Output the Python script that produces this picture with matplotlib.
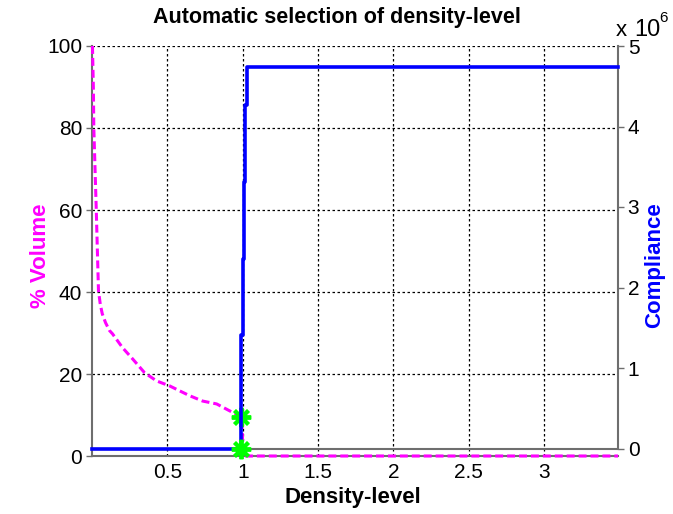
import numpy as np
import matplotlib
matplotlib.use("Agg")
import matplotlib.pyplot as plt

plt.rcParams['font.family'] = ['Liberation Sans', 'DejaVu Sans']

# % Volume vs density-level (left axis)
vol_density = [0.003, 0.009, 0.012, 0.028, 0.043, 0.055, 0.068, 0.09, 0.116, 0.136,
               0.203, 0.269, 0.349, 0.429, 0.515, 0.581, 0.648, 0.734, 0.827, 0.914,
               0.993, 1.0, 1.01, 3.49]
volume = [100, 90, 80, 60.4, 40.3, 37, 34.7, 32.5, 30.6, 29.8,
          26.4, 23.7, 20.3, 18.3, 17.1, 15.9, 14.7, 13.4, 12.7, 11.0,
          9.5, 3.0, 0.0, 0.0]

# Compliance vs density-level (right axis), step curve
comp_density = [0.003, 0.991, 1.000, 1.009, 1.018, 1.027, 3.49]
compliance = [0.0, 1.41e6, 2.35e6, 3.31e6, 4.27e6, 4.74e6, 4.74e6]

# selected density level
sel_density = 0.99
sel_volume = 9.5
sel_compliance = 0.0

x_ticks = [0.5, 1, 1.5, 2, 2.5, 3]
vol_ticks = [0, 20, 40, 60, 80, 100]
comp_ticks = [0, 1e6, 2e6, 3e6, 4e6, 5e6]
comp_labels = ['0', '1', '2', '3', '4', '5']

W, H = 673, 514
fig = plt.figure(figsize=(W / 100, H / 100), dpi=100)
fig.patch.set_facecolor('white')

spine_col = '#6e6e6e'
magenta = (1, 0, 1)
blue = (0, 0, 1)
green = (0, 1, 0)

x0, x1 = 92, 618
ax = fig.add_axes([x0 / W, (H - 456) / H, (x1 - x0) / W, (456 - 46) / H])
ax2 = fig.add_axes([x0 / W, (H - 448.5) / H, (x1 - x0) / W, (448.5 - 46) / H])
ax2.patch.set_alpha(0)

# left axes
ax.plot(vol_density, volume, color=magenta, lw=2.2, dashes=(2.6, 1.3), zorder=3, clip_on=False)
ax.plot([sel_density], [sel_volume], color=green, marker=(8, 2, 0), ms=14, mew=2.8, zorder=5)
ax.set_xlim(0, 3.49)
ax.set_ylim(0, 100)
ax.set_xticks(x_ticks)
ax.set_xticklabels(['0.5', '1', '1.5', '2', '2.5', '3'])
ax.set_yticks(vol_ticks)
ax.grid(True, color='black', linestyle=(0, (2, 2)), lw=0.9)
ax.set_axisbelow(True)
for s in ['top', 'right']:
    ax.spines[s].set_visible(False)
for s in ['left', 'bottom']:
    ax.spines[s].set_color(spine_col)
    ax.spines[s].set_linewidth(1.5)
ax.tick_params(axis='y', direction='out', length=4, width=1, colors=spine_col,
               labelcolor='black', labelsize=15, pad=3)
ax.tick_params(axis='x', direction='in', length=0, labelcolor='black', labelsize=15, pad=5)

# right axes
ax2.plot(comp_density, compliance, color=blue, lw=2.6, drawstyle='steps-post', zorder=3,
         clip_on=False)
ax2.plot([sel_density], [sel_compliance], color=green, marker=(8, 2, 0), ms=14, mew=2.8,
         zorder=5, clip_on=False)
ax2.set_xlim(0, 3.49)
ax2.set_ylim(0, 5e6)
ax2.set_xticks([])
ax2.yaxis.tick_right()
ax2.set_yticks(comp_ticks)
ax2.set_yticklabels(comp_labels)
for s in ['top', 'left']:
    ax2.spines[s].set_visible(False)
for s in ['right', 'bottom']:
    ax2.spines[s].set_color(spine_col)
    ax2.spines[s].set_linewidth(1.5)
ax2.tick_params(axis='y', direction='out', length=4, width=1, colors=spine_col,
                labelcolor='black', labelsize=15, pad=3)

# texts
fig.text(0.5, 1 - 17 / H, 'Automatic selection of density-level', ha='center', va='center',
         fontsize=15.5, fontweight='bold')
fig.text(353 / W, 1 - 497 / H, 'Density-level', ha='center', va='center',
         fontsize=16, fontweight='bold')
fig.text(40 / W, 1 - 256 / H, '% Volume', ha='center', va='center', rotation=90,
         fontsize=16, fontweight='bold', color=magenta)
fig.text(655 / W, 1 - 265 / H, 'Compliance', ha='center', va='center', rotation=90,
         fontsize=16, fontweight='bold', color=blue)
fig.text(616 / W, 1 - 36 / H, 'x', ha='left', va='baseline', fontsize=16)
fig.text(634 / W, 1 - 36 / H, '10', ha='left', va='baseline', fontsize=17)
fig.text(659 / W, 1 - 22 / H, '6', ha='left', va='baseline', fontsize=11)

fig.savefig('out.png', dpi=100, facecolor='white')
